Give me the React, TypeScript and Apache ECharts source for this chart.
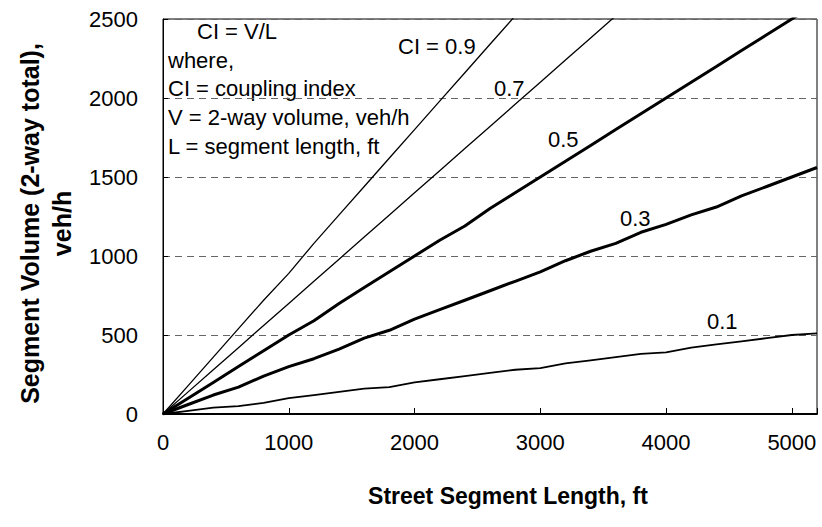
import React, { useEffect, useRef } from "react";
import * as echarts from "echarts";

const segmentLengths = [0, 200, 400, 600, 800, 1000, 1200, 1400, 1600, 1800, 2000, 2200, 2400, 2600, 2800, 3000, 3200, 3400, 3600, 3800, 4000, 4200, 4400, 4600, 4800, 5000, 5200];
const ci09 = [0, 180, 360, 540, 720, 890, 1080, 1260, 1440, 1620, 1800, 1980, 2160, 2340, 2520];
const ci07 = [0, 140, 280, 420, 560, 700, 840, 980, 1120, 1260, 1400, 1540, 1680, 1820, 1960, 2100, 2240, 2380, 2520];
const ci05 = [0, 100, 200, 300, 400, 500, 590, 700, 800, 900, 1000, 1100, 1190, 1300, 1400, 1500, 1600, 1700, 1800, 1900, 2000, 2100, 2200, 2300, 2400, 2500, 2600];
const ci03 = [0, 60, 120, 170, 240, 300, 350, 410, 480, 530, 600, 660, 720, 780, 840, 900, 970, 1030, 1080, 1150, 1200, 1260, 1310, 1380, 1440, 1500, 1560];
const ci01 = [0, 20, 40, 50, 70, 100, 120, 140, 160, 170, 200, 220, 240, 260, 280, 290, 320, 340, 360, 380, 390, 420, 440, 460, 480, 500, 510];

const seriesNames = ["0.9", "0.7", "0.5", "0.3", "0.1"];
const seriesValues = [ci09, ci07, ci05, ci03, ci01];
const seriesWidths = [1.3, 1.3, 3, 3, 1.8];

const xTicks = [0, 1000, 2000, 3000, 4000, 5000];

const FONT = '"Liberation Sans", Arial, sans-serif';

export default function App() {
  const ref = useRef<HTMLDivElement>(null);
  useEffect(() => {
    if (!ref.current) return;
    const chart = echarts.init(ref.current, undefined, { renderer: "svg" });
    const textStyle = (text: string, x: number, y: number) => ({
      type: "text",
      x,
      y,
      style: {
        text,
        font: `22px ${FONT}`,
        fill: "#000",
        verticalAlign: "middle",
        align: "left",
      },
    });
    chart.setOption({
      animation: false,
      backgroundColor: "#fff",
      grid: {
        left: 163,
        right: 5,
        top: 19,
        bottom: 113,
        show: true,
        borderColor: "#000",
        borderWidth: 1,
        containLabel: false,
      },
      xAxis: {
        type: "value",
        min: 0,
        max: 5200,
        interval: 1000,
        name: "Street Segment Length, ft",
        nameLocation: "middle",
        nameGap: 70,
        nameTextStyle: { fontFamily: FONT, fontSize: 23, fontWeight: "bold", color: "#000", padding: [0, 0, 0, 36] },
        axisLine: { lineStyle: { color: "#000", width: 2 } },
        axisTick: { inside: true, length: 6, lineStyle: { color: "#000" } },
        axisLabel: {
          margin: 17,
          fontFamily: FONT,
          fontSize: 22,
          color: "#000",
          formatter: (v: number) => (xTicks.includes(v) ? String(v) : ""),
        },
        splitLine: { show: false },
      },
      yAxis: {
        type: "value",
        min: 0,
        max: 2500,
        interval: 500,
        name: "Segment Volume (2-way total),\nveh/h",
        nameLocation: "middle",
        nameGap: 80,
        nameTextStyle: {
          fontFamily: FONT,
          fontSize: 25,
          fontWeight: "bold",
          color: "#000",
          lineHeight: 32,
          padding: [0, 14, 0, 0],
        },
        axisLine: { show: true, lineStyle: { color: "#000", width: 1 } },
        axisTick: { show: true, inside: true, length: 5, lineStyle: { color: "#000" } },
        axisLabel: {
          margin: 25,
          fontFamily: FONT,
          fontSize: 22,
          color: "#000",
          formatter: (v: number) => String(v),
        },
        splitLine: { show: true, lineStyle: { color: "#666", type: [7, 5], width: 1 } },
      },
      series: seriesNames.map((name, i) => ({
        name,
        type: "line",
        data: seriesValues[i].map((v, j) => [segmentLengths[j], v]),
        showSymbol: false,
        symbol: "none",
        clip: true,
        lineStyle: { color: "#000", width: seriesWidths[i] },
      })),
      graphic: [
        textStyle("CI = V/L", 197, 31),
        textStyle("where,", 168, 60),
        textStyle("CI = coupling index", 168, 88),
        textStyle("V = 2-way volume, veh/h", 168, 117),
        textStyle("L = segment length, ft", 168, 146),
        textStyle("CI = 0.9", 398, 46),
        textStyle("0.7", 494, 88),
        textStyle("0.5", 548, 139),
        textStyle("0.3", 620, 218),
        textStyle("0.1", 707, 321),
      ],
    });
    return () => chart.dispose();
  }, []);
  return <div ref={ref} style={{ width: 822, height: 527, position: "absolute", left: 0, top: 0 }} />;
}
